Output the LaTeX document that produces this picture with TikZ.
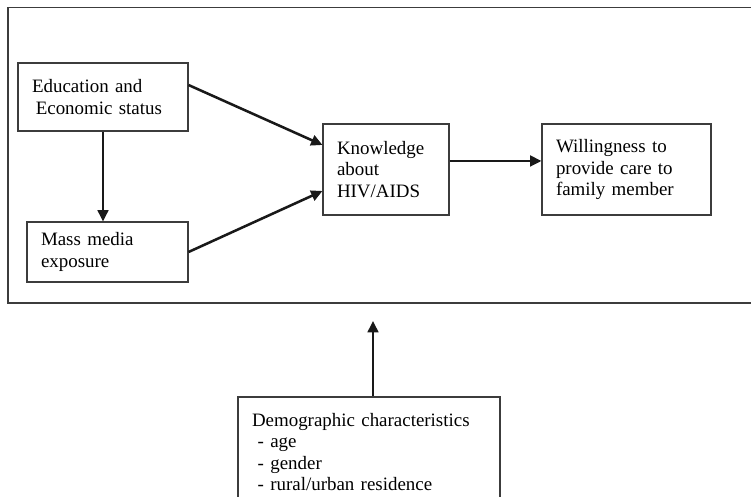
\documentclass[tikz,border=0pt]{standalone}
\usepackage{fontspec}
\setmainfont{Liberation Serif}
\usetikzlibrary{positioning,calc}
\usetikzlibrary{arrows.meta}
\definecolor{LineGray}{RGB}{60,60,60}
\definecolor{ArrowInk}{RGB}{25,25,25}
\tikzset{
  factor/.style={draw=LineGray,line width=0.8pt,fill=white,inner xsep=10.5pt,inner ysep=3pt,
    align=left,font=\fontsize{14.2pt}{16.2pt}\selectfont},
  link/.style={draw=ArrowInk,line width=1.9pt,-{Triangle[length=8.5pt,width=8pt]}},
  outerframe/.style={draw=LineGray,line width=0.8pt},
}
\begin{document}
\begin{tikzpicture}[x=0.75pt,y=-0.75pt]
\useasboundingbox (0,0) rectangle (751,497);
\coordinate (cEdu) at (103,97);
\coordinate (cMass) at (107.5,252);
\coordinate (cKnow) at (386,169.5);
\coordinate (cWill) at (626.5,169.5);
\coordinate (cDemo) at (369,452);
\coordinate (tip) at (373,321);
\draw[outerframe] (8,7.5) rectangle (752,303);
\node[factor,text width=106.5pt,minimum height=51pt] (edu) at (cEdu)
  {Education and\\\hspace*{0.2em}Economic status};
\node[factor,text width=99.75pt,minimum height=45pt] (mass) at (cMass)
  {Mass media\\exposure};
\node[factor,text width=73.5pt,minimum height=68.25pt] (know) at (cKnow)
  {Knowledge\\about\\HIV/AIDS};
\node[factor,text width=105.75pt,minimum height=68.25pt] (will) at (cWill)
  {Willingness to\\provide care to\\family member};
\node[factor,text width=175.5pt,minimum height=82.5pt] (demo) at (cDemo)
  {Demographic characteristics\\\hspace*{0.3em}- age\\\hspace*{0.3em}- gender\\\hspace*{0.3em}- rural/urban residence};
\draw[link] ([yshift=9pt]edu.east) -- ([yshift=18.4pt]know.west);
\draw[link] (mass.east) -- ([yshift=-16.1pt]know.west);
\draw[link] (edu.south) -- (edu.south |- mass.north);
\draw[link] ([yshift=6.4pt]know.east) -- ([yshift=6.4pt]will.west);
\draw[link] ([xshift=3pt]demo.north) -- (tip);
\end{tikzpicture}
\end{document}
